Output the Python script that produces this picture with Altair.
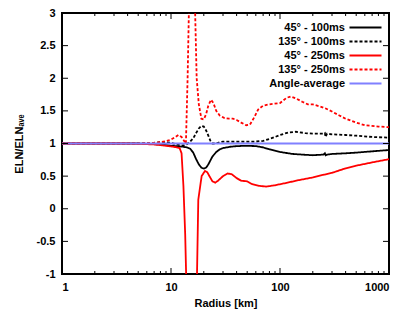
import altair as alt
import pandas as pd

series_names = ["45° - 100ms", "135° - 100ms", "45° - 250ms", "135° - 250ms", "Angle-average"]
colors = ["#000000", "#000000", "#ff0000", "#ff0000", "#8080ff"]
dashes = [[1, 0], [3, 2], [1, 0], [3, 2], [1, 0]]
widths = [1.8, 1.8, 1.8, 1.8, 1.0]

r45_100 = [1, 2, 3, 4, 5, 6, 7, 8, 9, 10, 11, 12, 13, 14, 15, 16, 17, 18, 19, 20, 21, 22, 24, 26, 28, 30,
           35, 40, 50, 60, 70, 80, 100, 130, 160, 200, 250, 258, 262, 270, 300, 400, 500, 700, 1000]
v45_100 = [1.0, 1.0, 1.0, 1.0, 1.0, 0.995, 0.99, 0.985, 0.975, 0.965, 0.96, 0.955, 0.95, 0.94, 0.92, 0.86,
           0.76, 0.68, 0.63, 0.615, 0.63, 0.68, 0.8, 0.87, 0.91, 0.93, 0.95, 0.96, 0.965, 0.96, 0.94, 0.91,
           0.87, 0.84, 0.83, 0.82, 0.83, 0.85, 0.82, 0.83, 0.84, 0.85, 0.86, 0.88, 0.9]

r135_100 = [1, 2, 3, 4, 5, 6, 7, 8, 9, 10, 11, 12, 13, 14, 15, 16, 17, 18, 19, 20, 21, 22, 23, 24, 26, 28,
            30, 40, 50, 60, 70, 80, 90, 100, 120, 140, 170, 200, 250, 258, 262, 270, 300, 400, 500, 700, 1000]
v135_100 = [1.0, 1.0, 1.0, 1.0, 1.0, 1.005, 1.01, 1.02, 1.02, 1.01, 0.99, 0.975, 0.97, 0.99, 1.03, 1.08,
            1.16, 1.23, 1.27, 1.26, 1.2, 1.12, 1.04, 1.0, 1.0, 1.02, 1.03, 1.03, 1.03, 1.03, 1.04, 1.07,
            1.1, 1.13, 1.17, 1.18, 1.16, 1.15, 1.15, 1.16, 1.1, 1.15, 1.14, 1.13, 1.12, 1.1, 1.09]

r45_250 = [1, 2, 3, 4, 5, 6, 7, 8, 9, 10, 11, 12, 12.5, 13, 13.5, 13.9, 17.2, 17.8, 19.1, 20.5, 21.5,
           22.5, 24, 25.5, 27, 30, 33, 36, 40, 44, 50, 55, 65, 75, 90, 110, 150, 200, 250, 300, 400,
           500, 700, 1000]
v45_250 = [1.0, 1.0, 1.0, 1.0, 0.995, 0.99, 0.985, 0.975, 0.965, 0.955, 0.945, 0.93, 0.85, 0.35, -0.4,
           -1.3, -1.3, 0.14, 0.5, 0.58, 0.56, 0.5, 0.42, 0.4, 0.43, 0.5, 0.54, 0.53, 0.47, 0.43, 0.42,
           0.38, 0.35, 0.34, 0.36, 0.39, 0.44, 0.48, 0.52, 0.55, 0.62, 0.66, 0.71, 0.76]

r135_250 = [1, 2, 3, 4, 5, 6, 7, 8, 9, 10, 11, 11.7, 12.5, 13.7, 14.2, 14.7, 16.5, 17.2, 18, 19, 20, 21,
            22, 23.3, 24.5, 26, 28, 31, 34, 37, 40, 44, 49, 53, 58, 63, 70, 80, 100, 115, 125, 140, 160,
            180, 200, 230, 260, 300, 350, 400, 500, 600, 800, 1000]
v135_250 = [1.0, 1.0, 1.0, 1.0, 1.0, 1.005, 1.01, 1.02, 1.035, 1.06, 1.1, 1.13, 1.1, 1.0, 2.0, 3.3, 3.3,
            2.0, 1.6, 1.38, 1.37, 1.45, 1.58, 1.67, 1.62, 1.5, 1.43, 1.39, 1.38, 1.38, 1.36, 1.32, 1.28,
            1.29, 1.4, 1.52, 1.58, 1.6, 1.62, 1.7, 1.72, 1.69, 1.64, 1.6, 1.6, 1.57, 1.54, 1.49, 1.43,
            1.38, 1.32, 1.28, 1.26, 1.25]

r_avg = [1, 1000]
v_avg = [1.0, 1.0]

x_labels = [1, 10, 100, 1000]
x_minor = [2, 3, 4, 5, 6, 7, 8, 9, 20, 30, 40, 50, 60, 70, 80, 90, 200, 300, 400, 500, 600, 700, 800, 900]
y_ticks = [-1, -0.5, 0, 0.5, 1, 1.5, 2, 2.5, 3]

W, H = 327, 261
FONT = "Liberation Sans"

rows = []
for name, rs, vs in zip(series_names,
                        [r45_100, r135_100, r45_250, r135_250, r_avg],
                        [v45_100, v135_100, v45_250, v135_250, v_avg]):
    for r, v in zip(rs, vs):
        rows.append({"series": name, "r": r, "v": v})
df = pd.DataFrame(rows)

xscale = alt.Scale(type="log", domain=[1, 1000])
yscale = alt.Scale(domain=[-1, 3])
xaxis = alt.Axis(values=x_labels, title="Radius [km]", labelExpr="datum.value + ''",
                 labelPadding=7, titlePadding=5)
yaxis = alt.Axis(values=y_ticks, title="ELN/ELNₐᵥₑ", labelExpr="datum.value + ''",
                 labelPadding=7, titlePadding=12)

leg = alt.Legend(title=None, orient="none", legendX=298, legendY=9, symbolType="M-4,0H4", symbolSize=64,
                 labelAlign="right", labelOffset={"expr": "-26"}, labelFont=FONT, labelFontWeight="bold",
                 labelFontSize=11, labelColor="black", rowPadding=2.0, padding=0)

lines = alt.Chart(df).mark_line(clip=True).encode(
    x=alt.X("r:Q", scale=xscale, axis=xaxis),
    y=alt.Y("v:Q", scale=yscale, axis=yaxis),
    color=alt.Color("series:N", scale=alt.Scale(domain=series_names, range=colors), legend=leg),
    strokeDash=alt.StrokeDash("series:N", scale=alt.Scale(domain=series_names, range=dashes), legend=leg),
    strokeWidth=alt.StrokeWidth("series:N", scale=alt.Scale(domain=series_names, range=widths), legend=leg),
)

ydf = pd.DataFrame({"v": y_ticks})
xmaj = pd.DataFrame({"r": x_labels})
xmin = pd.DataFrame({"r": x_minor})

def yt(x0, x1):
    return alt.Chart(ydf).mark_rule(color="black", strokeWidth=1).encode(
        y=alt.Y("v:Q", scale=yscale, axis=yaxis), x=alt.value(x0), x2=alt.value(x1))

def xt(d, y0, y1):
    return alt.Chart(d).mark_rule(color="black", strokeWidth=1).encode(
        x=alt.X("r:Q", scale=xscale, axis=xaxis), y=alt.value(y0), y2=alt.value(y1))

ticks = [yt(0, 6), yt(W - 6, W), xt(xmaj, H, H - 6), xt(xmaj, 0, 6), xt(xmin, H, H - 3), xt(xmin, 0, 3)]

chart = alt.layer(lines, *ticks).properties(
    width=W, height=H,
    padding={"left": 54, "top": 5, "right": 18, "bottom": 38},
    autosize=alt.AutoSizeParams(type="none"),
).configure_view(stroke="black", strokeWidth=2).configure_axis(
    labelFont=FONT, labelFontWeight="bold", labelFontSize=11, labelColor="black",
    titleFont=FONT, titleFontWeight="bold", titleFontSize=11, titleColor="black",
    grid=False, domain=False, ticks=False,
)

chart.save("out.html", embed_options={"renderer": "svg", "actions": False})
